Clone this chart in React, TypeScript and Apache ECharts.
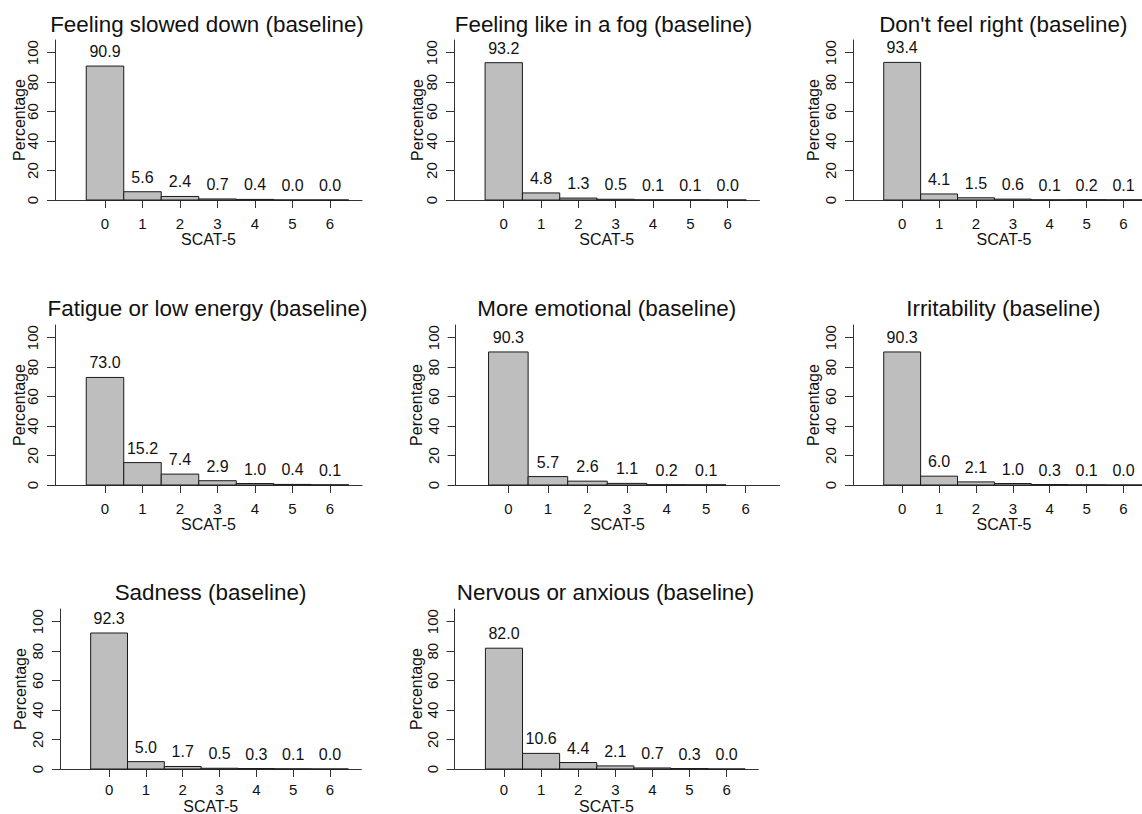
import React, { useEffect, useRef } from "react";
import * as echarts from "echarts";

// ---------- data ----------
const scores = [0, 1, 2, 3, 4, 5, 6];
const yTicks = [0, 20, 40, 60, 80, 100];
const xName = "SCAT-5";
const yName = "Percentage";

const titles = [
  "Feeling slowed down (baseline)",
  "Feeling like in a fog (baseline)",
  "Don't feel right (baseline)",
  "Fatigue or low energy (baseline)",
  "More emotional (baseline)",
  "Irritability (baseline)",
  "Sadness (baseline)",
  "Nervous or anxious (baseline)",
];

const slowedDown = [90.9, 5.6, 2.4, 0.7, 0.4, 0.0, 0.0];
const fog = [93.2, 4.8, 1.3, 0.5, 0.1, 0.1, 0.0];
const dontFeelRight = [93.4, 4.1, 1.5, 0.6, 0.1, 0.2, 0.1];
const fatigue = [73.0, 15.2, 7.4, 2.9, 1.0, 0.4, 0.1];
const emotional = [90.3, 5.7, 2.6, 1.1, 0.2, 0.1, null];
const irritability = [90.3, 6.0, 2.1, 1.0, 0.3, 0.1, 0.0];
const sadness = [92.3, 5.0, 1.7, 0.5, 0.3, 0.1, 0.0];
const nervous = [82.0, 10.6, 4.4, 2.1, 0.7, 0.3, 0.0];

const panelValues = [
  slowedDown,
  fog,
  dontFeelRight,
  fatigue,
  emotional,
  irritability,
  sadness,
  nervous,
];

// ---------- layout ----------
const FONT = '"Liberation Sans", Arial, Helvetica, sans-serif';
const X_MIN = -1.333;
const X_MAX = 6.853;
const Y_MAX = 108.6;
const H = 160;

const layouts = [
  { left: 55, right: 362, top: 40, tx: 207, ty: 25, gap: 28, xgap: 31.5, lm: 15.5 },
  { left: 454, right: 759.5, top: 40, tx: 603.5, ty: 25, gap: 29, xgap: 31.5, lm: 15.5 },
  { left: 853, right: 1155, top: 40, tx: 1003.3, ty: 25, gap: 32, xgap: 31.5, lm: 15.5 },
  { left: 55, right: 362, top: 325, tx: 207.5, ty: 309, gap: 28, xgap: 31.5, lm: 15.5 },
  { left: 455.6, right: 779.5, top: 325, tx: 606.7, ty: 309, gap: 31, xgap: 31.5, lm: 15.5 },
  { left: 853, right: 1155, top: 325, tx: 1003.3, ty: 309, gap: 32, xgap: 31.5, lm: 15.5 },
  { left: 60, right: 361.4, top: 609, tx: 210.5, ty: 593, gap: 32, xgap: 29, lm: 13 },
  { left: 454.5, right: 758.3, top: 609, tx: 605.5, ty: 593, gap: 30, xgap: 29, lm: 13 },
];

const AXIS_COLOR = "#333";
const TEXT_COLOR = "#111";

export default function App() {
  const ref = useRef<HTMLDivElement>(null);

  useEffect(() => {
    if (!ref.current) return;
    const chart = echarts.init(ref.current, undefined, { renderer: "svg" });

    const grid: any[] = [];
    const xAxis: any[] = [];
    const yAxis: any[] = [];
    const series: any[] = [];
    const title: any[] = [];

    layouts.forEach((l, i) => {
      grid.push({
        left: l.left,
        top: l.top,
        width: l.right - l.left,
        height: H,
        containLabel: false,
        outerBoundsMode: "none",
      });
      title.push({
        text: titles[i],
        left: l.tx,
        top: l.ty - 12,
        textAlign: "center",
        padding: 0,
        textStyle: {
          fontFamily: FONT,
          fontSize: 22.4,
          fontWeight: "normal",
          color: TEXT_COLOR,
        },
      });
      xAxis.push({
        type: "value",
        gridIndex: i,
        min: X_MIN,
        max: X_MAX,
        name: xName,
        nameLocation: "middle",
        nameGap: l.xgap,
        nameMoveOverlap: false,
        nameTextStyle: { fontFamily: FONT, fontSize: 16, color: TEXT_COLOR, lineHeight: 16 },
        axisLine: { show: true, onZero: false, lineStyle: { color: AXIS_COLOR, width: 1 } },
        axisTick: {
          show: true,
          length: 8,
          inside: false,
          customValues: scores,
          lineStyle: { color: AXIS_COLOR, width: 1 },
        },
        axisLabel: {
          show: true,
          customValues: scores,
          margin: l.lm,
          fontFamily: FONT,
          fontSize: 15,
          lineHeight: 15,
          color: TEXT_COLOR,
          formatter: (v: number) => String(Math.round(v)),
        },
        splitLine: { show: false },
      });
      yAxis.push({
        type: "value",
        gridIndex: i,
        min: 0,
        max: Y_MAX,
        name: yName,
        nameLocation: "middle",
        nameRotate: 90,
        nameGap: l.gap,
        nameMoveOverlap: false,
        nameTextStyle: { fontFamily: FONT, fontSize: 16, color: TEXT_COLOR },
        axisLine: { show: true, onZero: false, lineStyle: { color: AXIS_COLOR, width: 1 } },
        axisTick: {
          show: true,
          length: 8,
          inside: false,
          customValues: yTicks,
          lineStyle: { color: AXIS_COLOR, width: 1 },
        },
        axisLabel: {
          show: true,
          customValues: yTicks,
          rotate: 90,
          margin: 15,
          fontFamily: FONT,
          fontSize: 15,
          color: TEXT_COLOR,
        },
        splitLine: { show: false },
      });
      const data = scores
        .map((s, k) => [s, panelValues[i][k]])
        .filter((d) => d[1] !== null && d[1] !== undefined);
      series.push({
        type: "custom",
        xAxisIndex: i,
        yAxisIndex: i,
        clip: false,
        encode: { x: 0, y: 1 },
        data,
        renderItem: (_params: any, api: any) => {
          const x = api.value(0) as number;
          const v = api.value(1) as number;
          const tl = api.coord([x - 0.5, v]);
          const br = api.coord([x + 0.5, 0]);
          return {
            type: "rect",
            shape: {
              x: tl[0],
              y: tl[1],
              width: br[0] - tl[0],
              height: br[1] - tl[1],
            },
            style: { fill: "#bebebe", stroke: "#1a1a1a", lineWidth: 1 },
            textContent: {
              style: {
                text: v.toFixed(1),
                font: `16px ${FONT}`,
                fill: TEXT_COLOR,
              },
            },
            textConfig: { position: "top", distance: 6 },
          };
        },
      });
    });

    chart.setOption({
      animation: false,
      backgroundColor: "#ffffff",
      title,
      grid,
      xAxis,
      yAxis,
      series,
    });

    return () => chart.dispose();
  }, []);

  return (
    <div
      ref={ref}
      style={{ position: "absolute", left: 0, top: 0, width: 1142, height: 814 }}
    />
  );
}
